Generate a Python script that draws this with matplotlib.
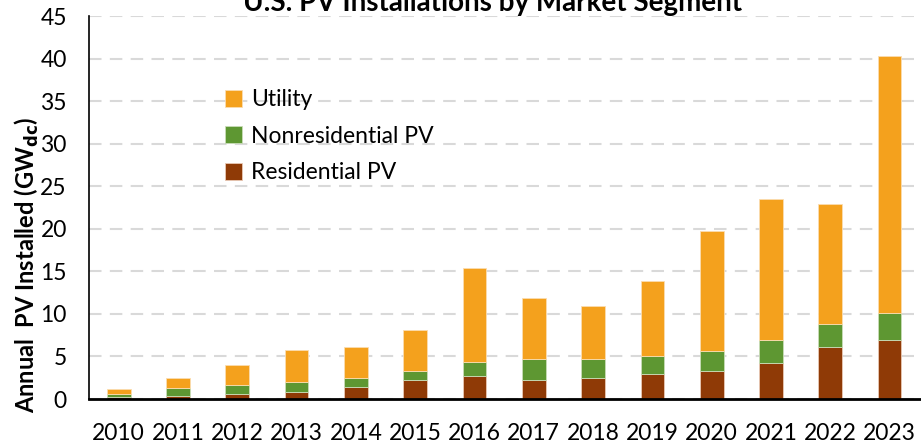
import numpy as np
import matplotlib.pyplot as plt

plt.rcParams['font.family'] = ['Lato', 'DejaVu Sans']

years = ["2010", "2011", "2012", "2013", "2014", "2015", "2016",
         "2017", "2018", "2019", "2020", "2021", "2022", "2023"]
residential = [0.25, 0.39, 0.59, 0.86, 1.37, 2.23, 2.70,
               2.27, 2.50, 2.94, 3.33, 4.27, 6.11, 6.97]
nonresidential = [0.37, 0.87, 1.05, 1.14, 1.06, 1.06, 1.69,
                  2.39, 2.16, 2.15, 2.35, 2.70, 2.70, 3.17]
utility = [0.52, 1.21, 2.39, 3.76, 3.64, 4.81, 10.97,
           7.21, 6.23, 8.74, 14.02, 16.53, 14.09, 30.16]

c_res = "#8F3A06"
c_non = "#5E9732"
c_util = "#F4A11D"

res = np.array(residential)
non = np.array(nonresidential)
util = np.array(utility)
x = np.arange(len(years))

fig = plt.figure(figsize=(9.21, 4.44), dpi=100)
ax = fig.add_axes([89 / 921, 45 / 444, 832 / 921, 383 / 444])

w = 0.4
ax.bar(x, res, w, color=c_res, edgecolor="#E9C9B5", linewidth=0.6, label="Residential PV", zorder=3)
ax.bar(x, non, w, bottom=res, color=c_non, edgecolor="#C9DDB8", linewidth=0.6, label="Nonresidential PV", zorder=3)
ax.bar(x, util, w, bottom=res + non, color=c_util, edgecolor="#FBDDB0", linewidth=0.6, label="Utility", zorder=3)

ax.set_ylim(0, 45)
ax.set_xlim(-0.5, len(years) - 0.47)
ax.set_yticks(np.arange(0, 46, 5))
ax.set_xticks(x)
ax.set_xticklabels(years)
ax.tick_params(axis="both", length=0, labelsize=16.5)
ax.tick_params(axis="x", pad=17)
ax.tick_params(axis="y", pad=16)
ax.yaxis.grid(True, color="#D9D9D9", linestyle=(0, (6, 4)), linewidth=1.5, zorder=0)
ax.set_axisbelow(True)
for s in ["top", "right"]:
    ax.spines[s].set_visible(False)
ax.spines["left"].set_linewidth(1.2)
ax.spines["bottom"].set_linewidth(2)
ax.spines["bottom"].set_zorder(4)

ax.set_ylabel("Annual  PV Installed (GW$_{\\mathbf{dc}}$)", fontsize=17, fontweight="bold")
ax.yaxis.set_label_coords(-0.058, 0.35)

handles, labels = ax.get_legend_handles_labels()
ax.legend(handles[::-1], labels[::-1], loc="upper left", bbox_to_anchor=(0.152, 0.833),
          frameon=False, fontsize=16.5, handlelength=0.75, handleheight=0.75,
          labelspacing=0.68, handletextpad=0.4, borderaxespad=0)

fig.text(493 / 921, 1 - 3 / 444, "U.S. PV Installations by Market Segment", ha="center", va="center",
         fontsize=20, fontweight="bold")

fig.savefig("out.png", dpi=100)
